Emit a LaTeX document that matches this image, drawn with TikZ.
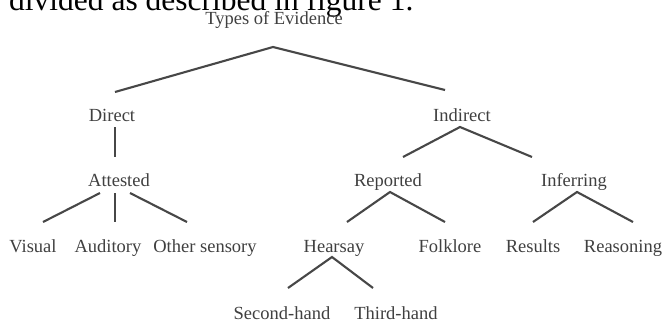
\documentclass[tikz,border=0pt]{standalone}
\usepackage{fontspec}
\setmainfont{Liberation Serif}
\begin{document}
\begin{tikzpicture}[x=1pt,y=-1pt,
  lbl/.style={anchor=base,inner sep=0pt,text=black!75,font=\fontsize{18.5}{21}\selectfont},
  br/.style={draw=black!72,line width=2.1pt}]
\useasboundingbox (0,0) rectangle (667,322);
\fill[white] (0,0) rectangle (667,322);
\begin{scope}
\clip (0,0) rectangle (667,322);
\node[anchor=base west,inner sep=0pt,font=\fontsize{31.5}{36}\selectfont] (hdr) at (9,10) {divided as described in figure 1.};
\end{scope}
\node[lbl] (tp) at (274,24) {Types of Evidence};
\node[lbl] (dir) at (112,121) {Direct};
\node[lbl] (ind) at (462,121) {Indirect};
\node[lbl] (att) at (119,186) {Attested};
\node[lbl] (rep) at (388,186) {Reported};
\node[lbl] (inf) at (574,186) {Inferring};
\node[lbl] (vis) at (33,252) {Visual};
\node[lbl] (aud) at (108,252) {Auditory};
\node[lbl] (oth) at (205,252) {Other sensory};
\node[lbl] (hea) at (334,252) {Hearsay};
\node[lbl] (fol) at (450,252) {Folklore};
\node[lbl] (res) at (533,252) {Results};
\node[lbl] (rea) at (623,252) {Reasoning};
\node[lbl] (sec) at (282,319) {Second-hand};
\node[lbl] (thi) at (396,319) {Third-hand};
% connectors
\draw[br] ([shift={(3,-29)}]dir.base) -- ([shift={(-1,23)}]tp.base) -- ([shift={(-17,-31)}]ind.base);
\draw[br] ([shift={(3,6)}]dir.base) -- ([shift={(-4,-29)}]att.base);
\draw[br] ([shift={(-19,7)}]att.base) -- ([shift={(10,-30)}]vis.base);
\draw[br] ([shift={(-4,7)}]att.base) -- ([shift={(7,-30)}]aud.base);
\draw[br] ([shift={(11,7)}]att.base) -- ([shift={(-18,-30)}]oth.base);
\draw[br] ([shift={(15,-29)}]rep.base) -- ([shift={(-2,6)}]ind.base) -- ([shift={(-42,-29)}]inf.base);
\draw[br] ([shift={(13,-30)}]hea.base) -- ([shift={(2,6)}]rep.base) -- ([shift={(-5,-30)}]fol.base);
\draw[br] ([shift={(0,-30)}]res.base) -- ([shift={(3,6)}]inf.base) -- ([shift={(10,-30)}]rea.base);
\draw[br] ([shift={(6,-31)}]sec.base) -- ([shift={(-2,5)}]hea.base) -- ([shift={(-23,-31)}]thi.base);
\end{tikzpicture}
\end{document}
